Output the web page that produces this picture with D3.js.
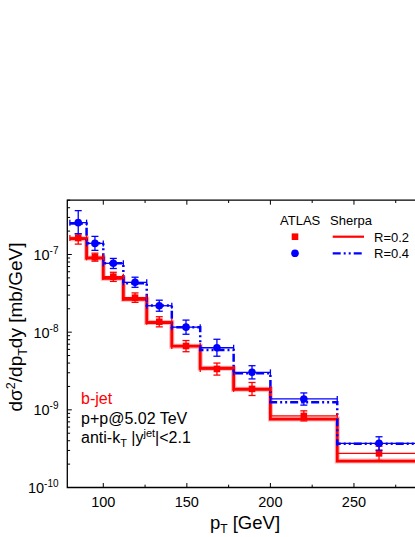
<!DOCTYPE html>
<html><head><meta charset="utf-8">
<script src="https://cdn.jsdelivr.net/npm/d3@7"></script>
<style>body{margin:0;background:#fff}svg{display:block}text{font-family:"Liberation Sans",Arial,sans-serif}</style>
</head><body>
<svg id="c" width="415" height="537"></svg>
<script>
// bin edges (GeV)
const binEdges = [80, 90, 100, 112, 126, 141, 158, 178, 200, 240, 290];
// ATLAS data R=0.2 (red squares)
const atlasR02 = [1.63e-7, 9.2e-8, 5.18e-8, 2.78e-8, 1.36e-8, 6.64e-9, 3.36e-9, 1.86e-9, 8.34e-10, 2.75e-10];
const atlasR02Hi = [1.84e-7, 1.04e-7, 5.9e-8, 3.2e-8, 1.58e-8, 7.8e-9, 4.0e-9, 2.25e-9, 9.7e-10, 3.4e-10];
const atlasR02Lo = [1.36e-7, 8.2e-8, 4.5e-8, 2.42e-8, 1.17e-8, 5.6e-9, 2.8e-9, 1.53e-9, 7.2e-10, 2.23e-10];
// ATLAS data R=0.4 (blue circles)
const atlasR04 = [2.57e-7, 1.39e-7, 7.7e-8, 4.38e-8, 2.19e-8, 1.16e-8, 6.3e-9, 3.04e-9, 1.38e-9, 3.7e-10];
const atlasR04Hi = [3.67e-7, 1.71e-7, 8.9e-8, 5.1e-8, 2.58e-8, 1.43e-8, 8.1e-9, 3.7e-9, 1.65e-9, 4.5e-10];
const atlasR04Lo = [1.85e-7, 1.13e-7, 6.6e-8, 3.78e-8, 1.86e-8, 9.4e-9, 4.9e-9, 2.5e-9, 1.15e-9, 3.03e-10];
// Sherpa predictions per bin
const sherpaR02 = [1.6e-7, 9.0e-8, 4.94e-8, 2.65e-8, 1.33e-8, 6.6e-9, 3.43e-9, 1.84e-9, 7.6e-10, 2.19e-10];
const sherpaR04 = [2.5e-7, 1.4e-7, 7.7e-8, 4.25e-8, 2.2e-8, 1.16e-8, 5.9e-9, 2.95e-9, 1.25e-9, 3.66e-10];
// ticks
const xMajorTicks = [100, 150, 200, 250];
const xMinorTicks = [125, 175, 225, 275];
const yMajorTicks = [1e-10, 1e-9, 1e-8, 1e-7];
const yMajorExp = ["-10", "-9", "-8", "-7"];

const svg = d3.select("#c");
const L = 67.3, T = 200.2, B = 487.5, R = 420.8;
const x = d3.scaleLinear().domain([78.46, 290]).range([L, R]);
const y = d3.scaleLog().domain([1e-10, 5e-7]).range([B, T]);
const red = "#ff0000", blue = "#0000ff";

const plot = svg.append("g");

// Sherpa step lines
function stepData(vals) {
  const pts = vals.map((v, i) => [binEdges[i], v]);
  pts.push([binEdges[binEdges.length - 1], vals[vals.length - 1]]);
  return pts;
}
const stepLine = d3.line().x(d => x(d[0])).y(d => y(d[1])).curve(d3.curveStepAfter);
plot.append("path").attr("d", stepLine(stepData(sherpaR02)))
  .attr("fill", "none").attr("stroke", red).attr("stroke-opacity", 0.3).attr("stroke-width", 5);
plot.append("path").attr("d", stepLine(stepData(sherpaR02)))
  .attr("fill", "none").attr("stroke", red).attr("stroke-width", 2.8);
plot.append("path").attr("d", stepLine(stepData(sherpaR04)))
  .attr("fill", "none").attr("stroke", blue).attr("stroke-width", 2.5)
  .attr("stroke-dasharray", "8,3,2,3,2,3");

// data with error bars
function drawData(vals, hi, lo, color, shape) {
  const g = plot.append("g").attr("stroke", color).attr("fill", color);
  vals.forEach((v, i) => {
    const x0 = x(binEdges[i]), x1 = x(binEdges[i + 1]);
    const xc = x((binEdges[i] + binEdges[i + 1]) / 2);
    const yc = y(v);
    g.append("line").attr("x1", x0).attr("x2", x1).attr("y1", yc).attr("y2", yc).attr("stroke-width", 1.3);
    g.append("line").attr("x1", x0).attr("x2", x0).attr("y1", yc - 3).attr("y2", yc + 3).attr("stroke-width", 1.3);
    g.append("line").attr("x1", x1).attr("x2", x1).attr("y1", yc - 3).attr("y2", yc + 3).attr("stroke-width", 1.3);
    g.append("line").attr("x1", xc).attr("x2", xc).attr("y1", y(hi[i])).attr("y2", y(lo[i])).attr("stroke-width", 1.3);
    g.append("line").attr("x1", xc - 3.5).attr("x2", xc + 3.5).attr("y1", y(hi[i])).attr("y2", y(hi[i])).attr("stroke-width", 1.3);
    g.append("line").attr("x1", xc - 3.5).attr("x2", xc + 3.5).attr("y1", y(lo[i])).attr("y2", y(lo[i])).attr("stroke-width", 1.3);
    if (shape === "sq") {
      g.append("rect").attr("x", xc - 3.3).attr("y", yc - 3.3).attr("width", 6.6).attr("height", 6.6).attr("stroke", "none");
    } else {
      g.append("circle").attr("cx", xc).attr("cy", yc).attr("r", 3.8).attr("stroke", "none");
    }
  });
}
drawData(atlasR02, atlasR02Hi, atlasR02Lo, red, "sq");
drawData(atlasR04, atlasR04Hi, atlasR04Lo, blue, "ci");

// axes
const ax = svg.append("g").attr("stroke", "#000").attr("fill", "none");
ax.append("path").attr("d", `M${R},${T}H${L}V${B}H${R}`).attr("stroke-width", 1.3);
xMajorTicks.forEach(t => {
  ax.append("line").attr("x1", x(t)).attr("x2", x(t)).attr("y1", B).attr("y2", B - 4.5);
  ax.append("line").attr("x1", x(t)).attr("x2", x(t)).attr("y1", T).attr("y2", T + 4.5);
});
xMinorTicks.forEach(t => {
  ax.append("line").attr("x1", x(t)).attr("x2", x(t)).attr("y1", B).attr("y2", B - 2.8);
  ax.append("line").attr("x1", x(t)).attr("x2", x(t)).attr("y1", T).attr("y2", T + 2.8);
});
yMajorTicks.forEach(t => {
  ax.append("line").attr("x1", L).attr("x2", L + 4.5).attr("y1", y(t)).attr("y2", y(t));
});
yMajorTicks.forEach(t => {
  for (let k = 2; k <= 9; k++) {
    const v = t * k;
    if (v <= 5e-7) ax.append("line").attr("x1", L).attr("x2", L + 2.8).attr("y1", y(v)).attr("y2", y(v));
  }
});

const lab = svg.append("g").attr("fill", "#000");
xMajorTicks.forEach(t => {
  lab.append("text").attr("x", x(t)).attr("y", 507).attr("text-anchor", "middle").attr("font-size", 14.5).text(t);
});
yMajorTicks.forEach((t, i) => {
  const tx = lab.append("text").attr("x", 58.5).attr("y", y(t) + 5.5).attr("text-anchor", "end").attr("font-size", 14.5);
  tx.append("tspan").text("10");
  tx.append("tspan").attr("font-size", 10).attr("dy", -6).text(yMajorExp[i]);
});

// axis titles
const xt = lab.append("text").attr("x", 245).attr("y", 529).attr("text-anchor", "middle").attr("font-size", 18.5);
xt.append("tspan").text("p");
xt.append("tspan").attr("font-size", 12).attr("dy", 3.5).text("T");
xt.append("tspan").attr("dy", -3.5).text(" [GeV]");

const yt = lab.append("text").attr("transform", "translate(22,327) rotate(-90)").attr("text-anchor", "middle").attr("font-size", 19);
yt.append("tspan").text("dσ");
yt.append("tspan").attr("font-size", 12.5).attr("dy", -7).text("2");
yt.append("tspan").attr("dy", 7).text("/dp");
yt.append("tspan").attr("font-size", 12.5).attr("dy", 4.5).text("T");
yt.append("tspan").attr("dy", -4.5).text("dy [mb/GeV]");

// legend
lab.append("text").attr("x", 280).attr("y", 224.5).attr("font-size", 13).text("ATLAS");
lab.append("text").attr("x", 330).attr("y", 224.5).attr("font-size", 13).text("Sherpa");
svg.append("rect").attr("x", 295 - 3.3).attr("y", 236.7 - 3.3).attr("width", 6.6).attr("height", 6.6).attr("fill", red);
svg.append("circle").attr("cx", 295).attr("cy", 253.3).attr("r", 3.8).attr("fill", blue);
svg.append("line").attr("x1", 332.7).attr("x2", 364).attr("y1", 236.7).attr("y2", 236.7).attr("stroke", red).attr("stroke-width", 2.2);
svg.append("line").attr("x1", 332.7).attr("x2", 364).attr("y1", 253.3).attr("y2", 253.3).attr("stroke", blue).attr("stroke-width", 2.2).attr("stroke-dasharray", "8,3,2,3,2,3");
lab.append("text").attr("x", 374).attr("y", 241.5).attr("font-size", 13).text("R=0.2");
lab.append("text").attr("x", 374).attr("y", 258).attr("font-size", 13).text("R=0.4");

// annotation
lab.append("text").attr("x", 81).attr("y", 404).attr("font-size", 16).attr("fill", red).text("b-jet");
lab.append("text").attr("x", 81).attr("y", 423.5).attr("font-size", 16).text("p+p@5.02 TeV");
const an = lab.append("text").attr("x", 81).attr("y", 443).attr("font-size", 16);
an.append("tspan").text("anti-k");
an.append("tspan").attr("font-size", 11).attr("dy", 4).text("T");
an.append("tspan").attr("dy", -4).text(" |y");
an.append("tspan").attr("font-size", 11).attr("dy", -6.5).text("jet");
an.append("tspan").attr("dy", 6.5).text("|<2.1");
</script>
</body></html>
